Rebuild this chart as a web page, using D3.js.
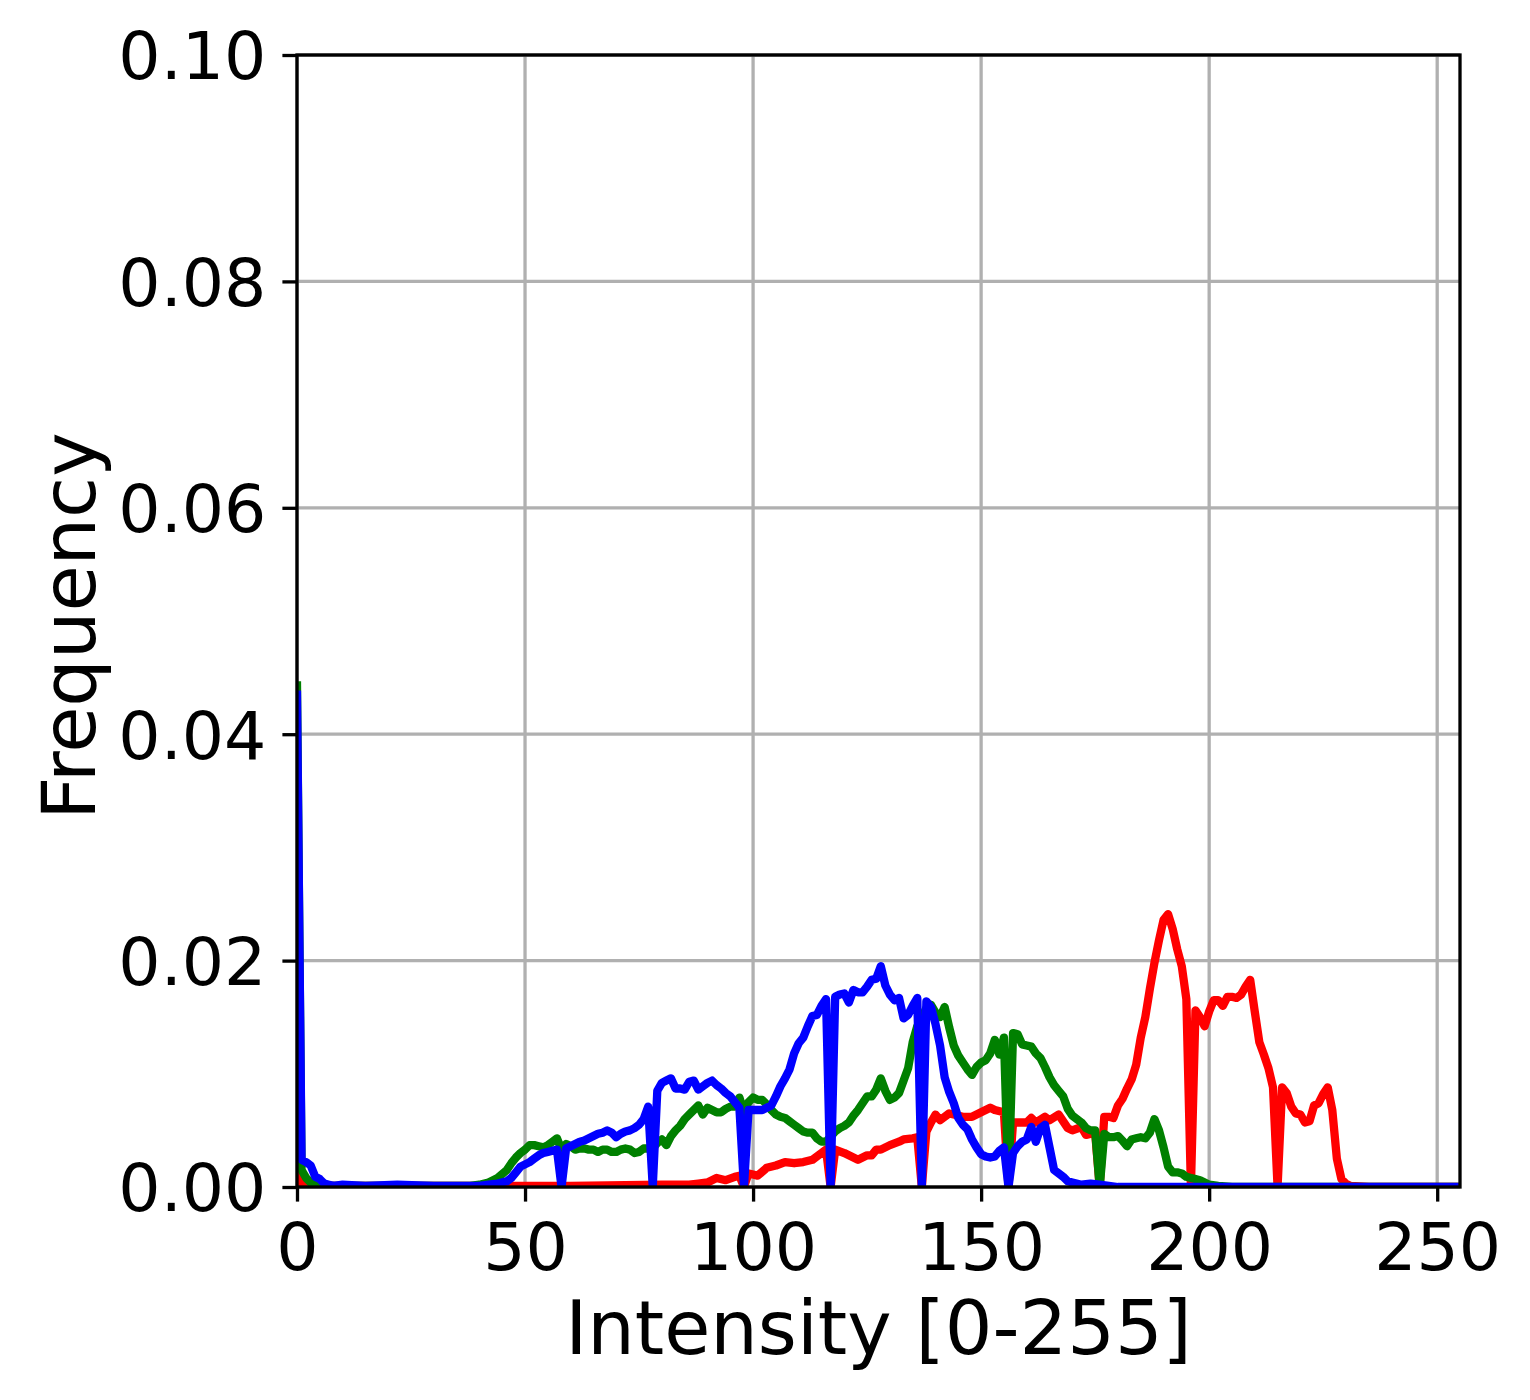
<!DOCTYPE html>
<html>
<head>
<meta charset="utf-8">
<script src="https://cdn.jsdelivr.net/npm/d3@7"></script>
<style>
    body { margin: 0; background: #fff; }
    svg { display: block; font-family: "DejaVu Sans", sans-serif; }
</style>
</head>
<body>
<svg id="chart" width="1530" height="1400"></svg>
<script>
// histogram readings: [intensity bin, frequency]
const red = [
    [0, 0.0035], [1, 0.0003], [5, 0.0001], [20, 0.0001], [40, 0.0001], [60, 0.0001],
    [80, 0.0002], [86, 0.0002], [88, 0.0003], [90, 0.0004], [92, 0.0008], [94, 0.0006],
    [96, 0.0009], [97, 0.001], [98, 0], [99, 0.0012], [100, 0.0011], [101, 0.001],
    [103, 0.0017], [105, 0.0019], [107, 0.0022], [109, 0.0021], [111, 0.0022], [113, 0.0024],
    [115, 0.003], [116, 0.0033], [117, 0], [118, 0.0033], [120, 0.003], [121, 0.0028],
    [123, 0.0024], [125, 0.0028], [126, 0.0028], [127, 0.0033], [128, 0.0033], [130, 0.0037],
    [132, 0.004], [133, 0.0042], [135, 0.0043], [136, 0.0044], [137, 0], [138, 0.0049],
    [139, 0.0057], [140, 0.0064], [141, 0.0059], [143, 0.0065], [144, 0.0064], [146, 0.0062],
    [148, 0.0062], [149, 0.0064], [150, 0.0066], [152, 0.007], [153, 0.0068], [155, 0.0066],
    [156, 0], [157, 0.0057], [158, 0.0057], [160, 0.0057], [161, 0.0061], [162, 0.0057],
    [164, 0.0062], [165, 0.0059], [167, 0.0064], [168, 0.0058], [169, 0.0052], [170, 0.005],
    [172, 0.0053], [173, 0.0046], [175, 0.0048], [176, 0], [177, 0.0062], [178, 0.0062],
    [179, 0.0061], [180, 0.0072], [181, 0.0078], [182, 0.0087], [183, 0.0095], [184, 0.0108],
    [185, 0.0132], [186, 0.015], [187, 0.0175], [188, 0.0198], [189, 0.0218], [190, 0.0236],
    [191, 0.0241], [192, 0.0228], [193, 0.021], [194, 0.0195], [195, 0.0166], [196, 0],
    [197, 0.0156], [198, 0.015], [199, 0.0142], [200, 0.0155], [201, 0.0165], [202, 0.0165],
    [203, 0.016], [204, 0.0168], [205, 0.0168], [206, 0.0167], [207, 0.017], [208, 0.0177],
    [209, 0.0183], [210, 0.0155], [211, 0.0128], [212, 0.0117], [213, 0.0105], [214, 0.0088],
    [215, 0], [216, 0.0088], [217, 0.0083], [218, 0.0071], [219, 0.0065], [220, 0.0064],
    [221, 0.0057], [222, 0.0058], [223, 0.0072], [224, 0.0074], [225, 0.0082], [226, 0.0088],
    [227, 0.0068], [228, 0.0025], [229, 0.0007], [230, 0.0003], [231, 0.0001], [235, 0],
    [255, 0]
];

const green = [
    [0, 0.0443], [1, 0.0015], [2, 0.0008], [3, 0.0004], [4, 0.0002], [6, 0.0001],
    [20, 0.0001], [38, 0.0001], [40, 0.0002], [42, 0.0004], [44, 0.0008], [46, 0.0015],
    [47, 0.0021], [48, 0.0026], [49, 0.003], [50, 0.0033], [51, 0.0037], [52, 0.0037],
    [53, 0.0036], [54, 0.0035], [55, 0.0037], [56, 0.004], [57, 0.0043], [58, 0.0033],
    [59, 0.0038], [60, 0.0036], [61, 0.0033], [62, 0.0034], [63, 0.0034], [64, 0.0033],
    [65, 0.0033], [66, 0.0031], [67, 0.0033], [68, 0.0033], [69, 0.0031], [70, 0.0031],
    [71, 0.0033], [72, 0.0034], [73, 0.0033], [74, 0.003], [75, 0.0031], [76, 0.0034],
    [77, 0.0034], [78, 0.0034], [79, 0.0039], [80, 0.0042], [81, 0.0037], [82, 0.0045],
    [83, 0.005], [84, 0.0054], [85, 0.006], [86, 0.0064], [87, 0.0068], [88, 0.0072],
    [89, 0.0064], [90, 0.007], [91, 0.0068], [92, 0.0066], [93, 0.0066], [94, 0.0069],
    [95, 0.0071], [96, 0.0071], [97, 0.0079], [98, 0.0066], [99, 0.0075], [100, 0.0079],
    [101, 0.0077], [102, 0.0077], [103, 0.0073], [104, 0.0068], [105, 0.0064], [106, 0.0062],
    [107, 0.0061], [108, 0.0058], [109, 0.0055], [110, 0.0052], [111, 0.0049], [112, 0.0048],
    [113, 0.0048], [114, 0.0043], [115, 0.004], [116, 0.004], [118, 0.0049], [119, 0.0052],
    [120, 0.0054], [121, 0.0057], [122, 0.0063], [123, 0.0068], [124, 0.0074], [125, 0.008],
    [126, 0.008], [127, 0.0086], [128, 0.0096], [129, 0.0085], [130, 0.0077], [131, 0.0079],
    [132, 0.0083], [133, 0.0094], [134, 0.0105], [135, 0.0128], [136, 0.0142], [137, 0.015],
    [138, 0.0158], [139, 0.0161], [140, 0.0154], [141, 0.015], [142, 0.0159], [143, 0.0141],
    [144, 0.0125], [145, 0.0116], [146, 0.011], [147, 0.0104], [148, 0.0099], [149, 0.0106],
    [150, 0.011], [151, 0.0112], [152, 0.0118], [153, 0.013], [154, 0.0117], [155, 0.0132],
    [156, 0], [157, 0.0136], [158, 0.0135], [159, 0.0126], [160, 0.0125], [161, 0.0124],
    [162, 0.0118], [163, 0.0114], [164, 0.0106], [165, 0.0097], [166, 0.009], [167, 0.0085],
    [168, 0.008], [169, 0.0069], [170, 0.0063], [171, 0.006], [172, 0.0057], [173, 0.0052],
    [174, 0.005], [175, 0.005], [176, 0], [177, 0.0047], [178, 0.0044], [179, 0.0044],
    [180, 0.0045], [181, 0.0041], [182, 0.0036], [183, 0.0042], [184, 0.0043], [185, 0.0044],
    [186, 0.0043], [187, 0.0048], [188, 0.006], [189, 0.005], [190, 0.0035], [191, 0.0018],
    [192, 0.0013], [193, 0.0013], [194, 0.0012], [195, 0.0009], [196, 0.0008], [197, 0.0007],
    [198, 0.0006], [199, 0.0004], [200, 0.0002], [202, 0.0001], [205, 0], [255, 0]
];

const blue = [
    [0, 0.0435], [1, 0.0024], [2, 0.0022], [3, 0.0019], [4, 0.0009], [5, 0.0007],
    [6, 0.0003], [7, 0.0002], [8, 0.0001], [10, 0.0002], [15, 0.0001], [22, 0.0002],
    [30, 0.0001], [40, 0.0001], [42, 0.0002], [44, 0.0003], [46, 0.0005], [47, 0.0008],
    [48, 0.0013], [49, 0.0018], [50, 0.002], [51, 0.0022], [52, 0.0025], [53, 0.0028],
    [54, 0.003], [55, 0.0031], [56, 0.0032], [57, 0.0033], [58, 0], [59, 0.0034],
    [60, 0.0036], [61, 0.0038], [62, 0.004], [63, 0.0041], [64, 0.0043], [65, 0.0045],
    [66, 0.0047], [67, 0.0048], [68, 0.005], [69, 0.0048], [70, 0.0044], [71, 0.0047],
    [72, 0.0049], [73, 0.005], [74, 0.0052], [75, 0.0055], [76, 0.006], [77, 0.0071],
    [78, 0], [79, 0.0085], [80, 0.0092], [81, 0.0094], [82, 0.0096], [83, 0.0087],
    [84, 0.0087], [85, 0.0086], [86, 0.0093], [87, 0.0094], [88, 0.0086], [89, 0.0089],
    [90, 0.0092], [91, 0.0094], [92, 0.009], [93, 0.0087], [94, 0.0083], [95, 0.008],
    [96, 0.0075], [97, 0.007], [98, 0], [99, 0.0068], [100, 0.0068], [101, 0.0068],
    [102, 0.0068], [103, 0.007], [104, 0.0072], [105, 0.008], [106, 0.0089], [107, 0.0096],
    [108, 0.0104], [109, 0.0118], [110, 0.0127], [111, 0.0132], [112, 0.0142], [113, 0.0151],
    [114, 0.0152], [115, 0.016], [116, 0.0166], [117, 0], [118, 0.0168], [119, 0.017],
    [120, 0.0171], [121, 0.0163], [122, 0.0174], [123, 0.0172], [124, 0.0172], [125, 0.0177],
    [126, 0.0183], [127, 0.0184], [128, 0.0195], [129, 0.0178], [130, 0.017], [131, 0.0165],
    [132, 0.0167], [133, 0.0149], [134, 0.0152], [135, 0.016], [136, 0.0167], [137, 0],
    [138, 0.0164], [139, 0.0159], [140, 0.0144], [141, 0.0125], [142, 0.0097], [143, 0.0084],
    [144, 0.0074], [145, 0.0061], [146, 0.0055], [147, 0.0051], [148, 0.0042], [149, 0.0035],
    [150, 0.0029], [151, 0.0027], [152, 0.0026], [153, 0.0027], [154, 0.0032], [155, 0.0035],
    [156, 0], [157, 0.003], [158, 0.0036], [159, 0.004], [160, 0.0042], [161, 0.0053],
    [162, 0.004], [163, 0.0052], [164, 0.0055], [165, 0.0035], [166, 0.0015], [167, 0.0012],
    [168, 0.0009], [169, 0.0005], [170, 0.0004], [172, 0.0002], [174, 0.0003], [176, 0.0002],
    [178, 0.0001], [180, 0], [255, 0]
];

const xTicks = [0, 50, 100, 150, 200, 250];
const yTicks = [0, 0.02, 0.04, 0.06, 0.08, 0.10];

const channels = [
    { name: "red", data: red, color: "#ff0000" },
    { name: "green", data: green, color: "#008000" },
    { name: "blue", data: blue, color: "#0000ff" }
];

let m = { left: 297, right: 1460, top: 55, bottom: 1187 };
let svg = d3.select("#chart");

svg.append("rect")
    .attr("width", 1530).attr("height", 1400)
    .style("fill", "#fff");

let x = d3.scaleLinear().domain([0, 255]).range([m.left, m.right]);
let y = d3.scaleLinear().domain([0, 0.1]).range([m.bottom, m.top]);

// grid
svg.append("g").selectAll("line")
    .data(xTicks)
    .join("line")
    .attr("x1", d => x(d)).attr("x2", d => x(d))
    .attr("y1", m.top).attr("y2", m.bottom)
    .style("stroke", "#b0b0b0")
    .style("stroke-width", 3.3);

svg.append("g").selectAll("line")
    .data(yTicks)
    .join("line")
    .attr("x1", m.left).attr("x2", m.right)
    .attr("y1", d => y(d)).attr("y2", d => y(d))
    .style("stroke", "#b0b0b0")
    .style("stroke-width", 3.3);

svg.append("clipPath").attr("id", "plot-clip")
    .append("rect")
    .attr("x", m.left).attr("y", m.top)
    .attr("width", m.right - m.left).attr("height", m.bottom - m.top);

let line = d3.line()
    .x(d => x(d[0]))
    .y(d => y(d[1]));

svg.append("g")
    .attr("clip-path", "url(#plot-clip)")
    .selectAll("path")
    .data(channels)
    .join("path")
    .attr("d", d => line(d.data))
    .style("fill", "none")
    .style("stroke", d => d.color)
    .style("stroke-width", 8.3)
    .style("stroke-linejoin", "round")
    .style("stroke-linecap", "square");

// axes
let xAxis = svg.append("g")
    .attr("transform", `translate(0,${m.bottom})`)
    .call(d3.axisBottom(x).tickValues(xTicks).tickFormat(d3.format("d"))
        .tickSize(14.6).tickPadding(21));

let yAxis = svg.append("g")
    .attr("transform", `translate(${m.left},0)`)
    .call(d3.axisLeft(y).tickValues(yTicks).tickFormat(d3.format(".2f"))
        .tickSize(14.6).tickPadding(16));

[xAxis, yAxis].forEach(g => {
    g.select(".domain").remove();
    g.selectAll(".tick line")
        .style("stroke", "#000")
        .style("stroke-width", 3.3);
    g.selectAll(".tick text")
        .style("fill", "#000")
        .style("font-family", "'DejaVu Sans', sans-serif")
        .style("font-size", "66.5px");
});
yAxis.selectAll(".tick text").attr("dy", "0.36em");

// spines
svg.append("rect")
    .attr("x", m.left).attr("y", m.top)
    .attr("width", m.right - m.left).attr("height", m.bottom - m.top)
    .style("fill", "none")
    .style("stroke", "#000")
    .style("stroke-width", 3.3);

svg.append("text")
    .attr("x", (m.left + m.right) / 2)
    .attr("y", 1354)
    .attr("text-anchor", "middle")
    .style("font-size", "75px")
    .text("Intensity [0-255]");

svg.append("text")
    .attr("transform", `translate(95,626) rotate(-90)`)
    .attr("text-anchor", "middle")
    .style("font-size", "75px")
    .text("Frequency");
</script>
</body>
</html>
